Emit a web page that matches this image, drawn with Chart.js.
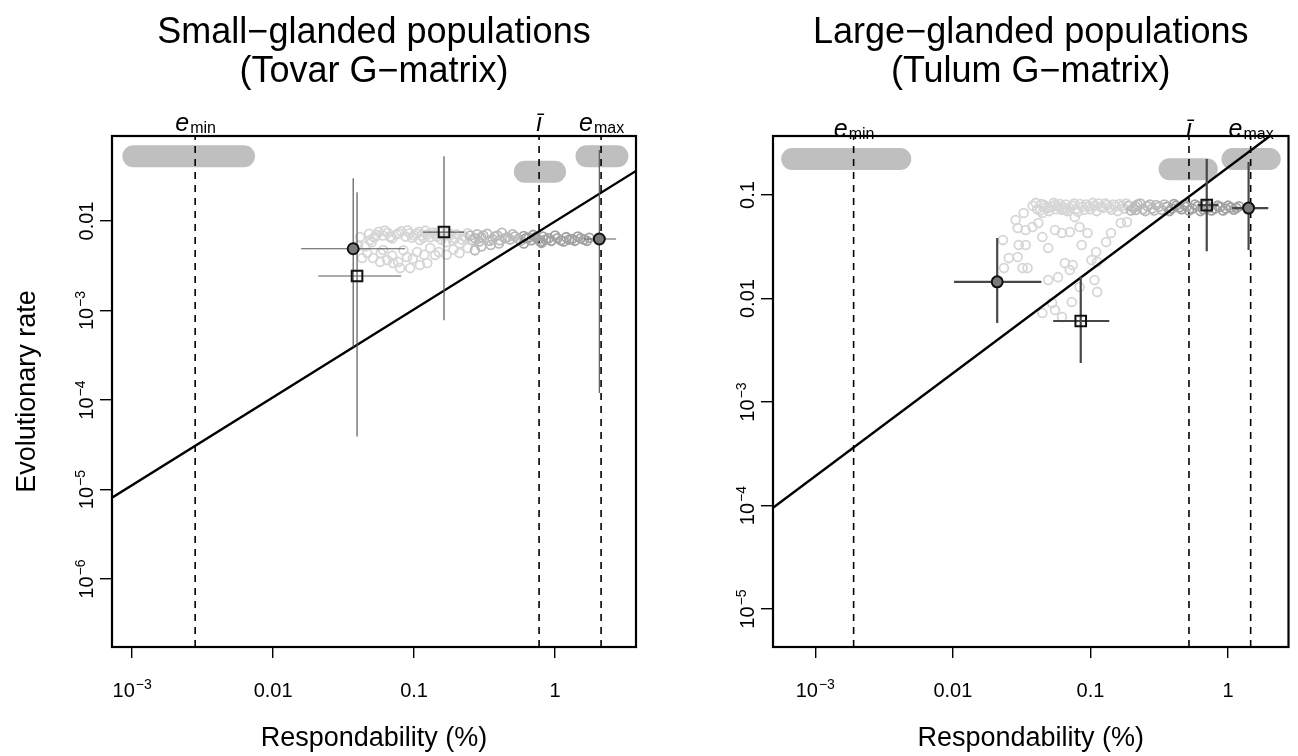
<!DOCTYPE html>
<html>
<head>
<meta charset="utf-8">
<script src="https://cdn.jsdelivr.net/npm/chart.js@4.4.1/dist/chart.umd.min.js"></script>
<style>
  html, body { margin: 0; padding: 0; background: #fff; }
  .panel { position: absolute; top: 0; width: 649px; height: 756px; }
</style>
</head>
<body>
<div class="panel" style="left:0"><canvas id="left" width="649" height="756"></canvas></div>
<div class="panel" style="left:649px"><canvas id="right" width="649" height="756"></canvas></div>
<script>
/** Tick values and labels. */
const xTicks = [1e-3, 0.01, 0.1, 1];
const xTickLabels = ['10^−3', '0.01', '0.1', '1'];
const smallYTicks = [1e-6, 1e-5, 1e-4, 1e-3, 0.01];
const smallYTickLabels = ['10^−6', '10^−5', '10^−4', '10^−3', '0.01'];
const largeYTicks = [1e-5, 1e-4, 1e-3, 0.01, 0.1];
const largeYTickLabels = ['10^−5', '10^−4', '10^−3', '0.01', '0.1'];

/** Reference respondabilities: e_min, mean, e_max, with intervals. */
const refNames = ['e|min', 'ī', 'e|max'];
const smallRefX = [0.0028, 0.77, 2.12];
const smallRefLo = [0.00102, 0.61, 1.67];
const smallRefHi = [0.00622, 1.0, 2.77];
const largeRefX = [0.0019, 0.52, 1.46];
const largeRefLo = [0.00068, 0.376, 1.077];
const largeRefHi = [0.00415, 0.70, 2.01];

/** Populations: [respondability, rate, resp lo, resp hi, rate lo, rate hi]. */
const smallCircles = [[0.037, 0.0049, 0.0158, 0.0863, 3.9e-4, 0.030], [2.06, 0.0063, 1.61, 2.71, 1.2e-4, 0.062]];
const smallSquares = [[0.0394, 0.00243, 0.0209, 0.081, 3.9e-5, 0.021], [0.163, 0.00753, 0.116, 0.226, 7.8e-4, 0.053]];
const largeCircles = [[0.021, 0.0145, 0.0102, 0.044, 0.0058, 0.0385], [1.41, 0.0748, 1.07, 1.96, 0.0294, 0.209]];
const largeSquares = [[0.085, 0.00607, 0.0536, 0.137, 0.00238, 0.0162], [0.70, 0.080, 0.60, 0.85, 0.0287, 0.223]];

/** Fitted line end points. */
const smallFitX = [7.2e-4, 3.75];
const smallFitY = [8.1e-6, 0.0363];
const largeFitX = [4.93e-4, 2.75];
const largeFitY = [9.5e-5, 0.506];

/** Simulated responses (respondability, rate). */
const smallCloud = [
  [0.0414, 0.00662], [0.0488, 0.00613], [0.0528, 0.00662], [0.0465, 0.00439], [0.0428, 0.00386],
  [0.0512, 0.00386], [0.0574, 0.00348], [0.0644, 0.00367], [0.071, 0.0034], [0.0771, 0.00348],
  [0.0891, 0.00396], [0.105, 0.00451], [0.110, 0.00322], [0.124, 0.0034], [0.130, 0.00499],
  [0.141, 0.00417], [0.0603, 0.00474], [0.0938, 0.00298], [0.0796, 0.00298], [0.110, 0.00613],
  [0.0676, 0.00662], [0.045, 0.0052], [0.058, 0.0044], [0.084, 0.0047], [0.098, 0.0038],
  [0.118, 0.0042], [0.07, 0.0041], [0.05, 0.0058], [0.04, 0.0053],
  [0.048, 0.0072], [0.052, 0.0066], [0.056, 0.0076], [0.06, 0.0069], [0.065, 0.0074], [0.07, 0.0064],
  [0.075, 0.0071], [0.081, 0.0077], [0.087, 0.0067], [0.093, 0.0073], [0.1, 0.0069], [0.108, 0.0076],
  [0.116, 0.0065], [0.125, 0.0071], [0.135, 0.0074], [0.145, 0.0067], [0.156, 0.0062], [0.168, 0.0058],
  [0.18, 0.0070], [0.195, 0.0064], [0.21, 0.0056], [0.225, 0.0068], [0.24, 0.0073], [0.26, 0.0061],
  [0.28, 0.0071], [0.3, 0.0066], [0.33, 0.0072], [0.36, 0.0063], [0.39, 0.0069], [0.42, 0.0074],
  [0.46, 0.0066], [0.5, 0.0071], [0.55, 0.0063], [0.6, 0.0068], [0.65, 0.0065], [0.7, 0.0070],
  [0.76, 0.0062], [0.82, 0.0067], [0.9, 0.0064], [1.0, 0.0069], [1.1, 0.0061], [1.2, 0.0066],
  [1.32, 0.0063], [1.45, 0.0067], [1.6, 0.0062], [1.75, 0.0065],
  [0.15, 0.0045], [0.17, 0.0042], [0.19, 0.0048], [0.21, 0.0044], [0.24, 0.0050], [0.27, 0.0047],
  [0.3, 0.0052], [0.35, 0.0054], [0.4, 0.0056], [0.6, 0.0056], [0.8, 0.0057],
  [0.054, 0.0070], [0.062, 0.0078], [0.068, 0.0067], [0.078, 0.0073], [0.09, 0.0079], [0.097, 0.0065],
  [0.104, 0.0072], [0.113, 0.0069], [0.12, 0.0078], [0.13, 0.0066], [0.14, 0.0071], [0.15, 0.0076],
  [0.162, 0.0068], [0.175, 0.0074], [0.188, 0.0061], [0.2, 0.0071], [0.218, 0.0062], [0.233, 0.0065],
  [0.25, 0.0069], [0.27, 0.0064], [0.29, 0.0059], [0.31, 0.0069], [0.345, 0.0060], [0.375, 0.0067],
  [0.405, 0.0061], [0.44, 0.0064], [0.48, 0.0062], [0.52, 0.0067], [0.57, 0.0060], [0.62, 0.0064],
  [0.68, 0.0061], [0.73, 0.0066], [0.79, 0.0059], [0.86, 0.0062], [0.94, 0.0060], [1.04, 0.0064],
  [1.15, 0.0059], [1.26, 0.0062], [1.38, 0.0060], [1.52, 0.0064], [1.68, 0.0060]
];
const largeCloud = [
  [0.0286, 0.0573], [0.0327, 0.067], [0.0296, 0.048], [0.0338, 0.0459], [0.0418, 0.0536],
  [0.0447, 0.0393], [0.0493, 0.0308], [0.0553, 0.0459], [0.0621, 0.043], [0.0708, 0.044],
  [0.0834, 0.0491], [0.0863, 0.0329], [0.0652, 0.022], [0.0743, 0.0211], [0.0708, 0.0189],
  [0.0581, 0.0161], [0.0493, 0.0151], [0.1017, 0.0236], [0.110, 0.0281], [0.112, 0.0225],
  [0.107, 0.0151], [0.112, 0.0116], [0.0255, 0.0246], [0.0296, 0.0252], [0.0321, 0.0197],
  [0.0349, 0.0197], [0.0231, 0.0367], [0.0235, 0.0197], [0.0834, 0.0129], [0.0526, 0.00906],
  [0.0553, 0.00774], [0.0621, 0.00662], [0.0447, 0.00724], [0.0731, 0.00925], [0.0301, 0.0329],
  [0.0338, 0.0329], [0.0379, 0.0491], [0.0447, 0.067], [0.0493, 0.0748], [0.0553, 0.080],
  [0.0652, 0.0716], [0.0769, 0.0612], [0.0953, 0.043], [0.13, 0.0351], [0.141, 0.043],
  [0.166, 0.0536], [0.184, 0.0548], [0.213, 0.0716],
  [0.038, 0.079], [0.041, 0.073], [0.044, 0.082], [0.047, 0.076], [0.05, 0.070], [0.054, 0.084],
  [0.058, 0.078], [0.062, 0.072], [0.066, 0.081], [0.071, 0.075], [0.076, 0.083], [0.081, 0.069],
  [0.087, 0.077], [0.093, 0.081], [0.1, 0.073], [0.107, 0.079], [0.115, 0.083], [0.123, 0.075],
  [0.132, 0.080], [0.142, 0.072], [0.152, 0.078], [0.163, 0.082], [0.175, 0.074], [0.19, 0.079],
  [0.205, 0.075], [0.22, 0.081], [0.24, 0.073], [0.26, 0.078], [0.28, 0.074], [0.3, 0.080],
  [0.33, 0.072], [0.36, 0.077], [0.39, 0.074], [0.42, 0.079], [0.46, 0.073], [0.5, 0.077],
  [0.55, 0.074], [0.6, 0.078], [0.66, 0.073], [0.72, 0.076], [0.8, 0.074], [0.88, 0.077],
  [0.96, 0.074], [1.05, 0.076], [1.15, 0.075],
  [0.04, 0.084], [0.043, 0.071], [0.046, 0.080], [0.052, 0.077], [0.056, 0.073], [0.06, 0.082],
  [0.064, 0.076], [0.068, 0.070], [0.074, 0.079], [0.079, 0.073], [0.084, 0.082], [0.09, 0.072],
  [0.097, 0.078], [0.104, 0.084], [0.111, 0.070], [0.119, 0.077], [0.128, 0.083], [0.137, 0.076],
  [0.147, 0.081], [0.158, 0.070], [0.17, 0.079], [0.182, 0.083], [0.197, 0.071], [0.212, 0.078],
  [0.23, 0.083], [0.25, 0.070], [0.27, 0.081], [0.29, 0.071], [0.315, 0.077], [0.345, 0.081],
  [0.375, 0.070], [0.405, 0.082], [0.44, 0.076], [0.48, 0.081], [0.52, 0.071], [0.575, 0.081],
  [0.63, 0.070], [0.69, 0.080], [0.76, 0.071], [0.84, 0.079], [0.92, 0.071], [1.0, 0.079],
  [1.1, 0.072], [1.2, 0.078]
];

const FONT = '"Liberation Sans", Arial, Helvetica, sans-serif';
const font = (size, style) => (style || '') + ' ' + size + 'px ' + FONT;

/** Draw a tick label like 10^-3 centred on cx. */
function drawPowLabel(ctx, label, cx, by) {
  const parts = label.split('^');
  ctx.font = font(20);
  const wb = ctx.measureText(parts[0]).width;
  let ws = 0;
  if (parts[1]) { ctx.font = font(14); ws = ctx.measureText(parts[1]).width + 1; }
  const x = cx - (wb + ws) / 2;
  ctx.textAlign = 'left';
  ctx.textBaseline = 'alphabetic';
  ctx.font = font(20);
  ctx.fillText(parts[0], x, by);
  if (parts[1]) { ctx.font = font(14); ctx.fillText(parts[1], x + wb + 1, by - 8); }
}

/** Draw e_min style label centred on cx. */
function drawRefLabel(ctx, name, cx, by) {
  const parts = name.split('|');
  ctx.textAlign = 'left';
  ctx.textBaseline = 'alphabetic';
  ctx.font = font(25, 'italic');
  const wm = ctx.measureText(parts[0]).width;
  let ws = 0;
  if (parts[1]) { ctx.font = font(16); ws = ctx.measureText(parts[1]).width; }
  const x = cx - (wm + ws) / 2;
  ctx.font = font(25, 'italic');
  ctx.fillText(parts[0], x, by);
  if (parts[1]) { ctx.font = font(16); ctx.fillText(parts[1], x + wm + 1, by + 2); }
}

function errorSegments(rows) {
  const pts = [];
  rows.forEach((r) => {
    pts.push({ x: r[2], y: r[1] }, { x: r[3], y: r[1] }, { x: r[0], y: null });
    pts.push({ x: r[0], y: r[4] }, { x: r[0], y: r[5] }, { x: r[0], y: null });
  });
  return pts;
}

function makePanel(p) {
  /** Reference bands and dashed lines. */
  const bands = [];
  const refs = [];
  p.refX.forEach((v, i) => {
    bands.push({ x: p.refLo[i], y: p.bandY[i] }, { x: p.refHi[i], y: p.bandY[i] }, { x: p.refHi[i], y: null });
    refs.push({ x: v, y: p.yMin }, { x: v, y: p.yMax }, { x: v, y: null });
  });

  const config = {
    type: 'scatter',
    data: {
      datasets: [
        {
          data: p.squares.map((r) => ({ x: r[0], y: r[1] })),
          pointStyle: 'rect', pointRadius: 7.5, pointBorderWidth: 2,
          pointBackgroundColor: 'rgba(0,0,0,0)', pointBorderColor: '#111', order: 0,
        },
        {
          data: p.circles.map((r) => ({ x: r[0], y: r[1] })),
          pointStyle: 'circle', pointRadius: 5.5, pointBorderWidth: 2,
          pointBackgroundColor: '#7a7a7a', pointBorderColor: '#111', order: 0,
        },
        {
          data: errorSegments(p.circles.concat(p.squares)),
          showLine: true, pointRadius: 0, borderColor: p.errColor, borderWidth: p.errWidth, order: 1,
        },
        {
          data: p.fitX.map((x, i) => ({ x: x, y: p.fitY[i] })),
          showLine: true, pointRadius: 0, borderColor: '#000', borderWidth: 2.4, order: 2,
        },
        {
          data: p.cloud.map((c) => ({ x: c[0], y: c[1] })),
          pointRadius: 4.4, pointBorderWidth: 1.8, pointBackgroundColor: 'rgba(0,0,0,0)',
          pointBorderColor: (ctx) => {
            const v = ctx.raw ? ctx.raw.x : 0;
            if (v < p.shade[0]) return '#d6d6d6';
            if (v < p.shade[1]) return '#bababa';
            return '#a2a2a2';
          },
          order: 3,
        },
        {
          data: refs, showLine: true, pointRadius: 0, borderColor: '#000',
          borderWidth: 1.6, borderDash: [7, 6], order: 4,
        },
        {
          data: bands, showLine: true, pointRadius: 0, borderColor: '#bfbfbf',
          borderWidth: 22, borderCapStyle: 'round', order: 5,
        },
      ],
    },
    options: {
      responsive: false,
      animation: false,
      events: [],
      layout: { padding: p.pad },
      plugins: { legend: { display: false }, tooltip: { enabled: false } },
      scales: {
        x: {
          type: 'logarithmic', position: 'bottom', min: p.xMin, max: p.xMax,
          afterBuildTicks: (s) => { s.ticks = p.xTicks.map((v) => ({ value: v })); },
          afterFit: (s) => { s.height = 0; },
          ticks: { display: false },
          grid: { drawOnChartArea: false, drawTicks: true, tickLength: 11, color: '#000', lineWidth: 1.4 },
          border: { display: false },
        },
        y: {
          type: 'logarithmic', position: 'left', min: p.yMin, max: p.yMax,
          afterBuildTicks: (s) => { s.ticks = p.yTicks.map((v) => ({ value: v })); },
          afterFit: (s) => { s.width = 0; },
          ticks: { display: false },
          grid: { drawOnChartArea: false, drawTicks: true, tickLength: 12, color: '#000', lineWidth: 1.4 },
          border: { display: false },
        },
      },
    },
    plugins: [{
      id: 'rframe',
      afterDraw: (chart) => {
        const ctx = chart.ctx;
        const a = chart.chartArea;
        const xs = chart.scales.x;
        const ys = chart.scales.y;
        const cx = (a.left + a.right) / 2;
        ctx.save();
        ctx.fillStyle = '#000';

        /** Titles. */
        ctx.textAlign = 'center';
        ctx.textBaseline = 'alphabetic';
        ctx.font = font(36);
        ctx.fillText(p.title[0], cx, 43);
        ctx.fillText(p.title[1], cx, 82);

        /** Axis titles. */
        ctx.font = font(27);
        ctx.fillText('Respondability (%)', cx, 746);
        if (p.yTitle) {
          ctx.save();
          ctx.translate(28, (a.top + a.bottom) / 2);
          ctx.rotate(-Math.PI / 2);
          ctx.textBaseline = 'middle';
          ctx.fillText(p.yTitle, 0, 0);
          ctx.restore();
        }

        /** Tick labels. */
        p.xTicks.forEach((v, i) => drawPowLabel(ctx, p.xTickLabels[i], xs.getPixelForValue(v), 697));
        p.yTicks.forEach((v, i) => {
          ctx.save();
          ctx.translate(a.left - 19, ys.getPixelForValue(v));
          ctx.rotate(-Math.PI / 2);
          drawPowLabel(ctx, p.yTickLabels[i], 0, 0);
          ctx.restore();
        });

        /** Reference labels above the box. */
        p.refX.forEach((v, i) => drawRefLabel(ctx, refNames[i], xs.getPixelForValue(v), p.refLabelY));

        /** Box. */
        ctx.strokeStyle = '#000';
        ctx.lineWidth = 2.2;
        ctx.strokeRect(a.left, a.top, a.right - a.left, a.bottom - a.top);
        ctx.restore();
      },
    }],
  };

  return new Chart(document.getElementById(p.id).getContext('2d'), config);
}

makePanel({
  id: 'left',
  title: ['Small−glanded populations', '(Tovar G−matrix)'],
  yTitle: 'Evolutionary rate',
  xMin: 7.2e-4, xMax: 3.75, yMin: 1.74e-7, yMax: 0.0891,
  xTicks: xTicks, xTickLabels: xTickLabels,
  yTicks: smallYTicks, yTickLabels: smallYTickLabels,
  refX: smallRefX, refLo: smallRefLo, refHi: smallRefHi,
  bandY: [0.053, 0.0355, 0.053],
  circles: smallCircles, squares: smallSquares,
  fitX: smallFitX, fitY: smallFitY,
  cloud: smallCloud, shade: [0.25, 0.6],
  errColor: '#5a5a5a', errWidth: 1.2,
  refLabelY: 131,
  pad: { left: 112, right: 13, top: 136, bottom: 109 },
});

makePanel({
  id: 'right',
  title: ['Large−glanded populations', '(Tulum G−matrix)'],
  yTitle: null,
  xMin: 4.93e-4, xMax: 2.75, yMin: 4.3e-6, yMax: 0.372,
  xTicks: xTicks, xTickLabels: xTickLabels,
  yTicks: largeYTicks, yTickLabels: largeYTickLabels,
  refX: largeRefX, refLo: largeRefLo, refHi: largeRefHi,
  bandY: [0.223, 0.178, 0.223],
  circles: largeCircles, squares: largeSquares,
  fitX: largeFitX, fitY: largeFitY,
  cloud: largeCloud, shade: [0.19, 0.35],
  errColor: '#474747', errWidth: 2.2,
  refLabelY: 137,
  pad: { left: 124, right: 1, top: 136, bottom: 109 },
});
</script>
</body>
</html>
